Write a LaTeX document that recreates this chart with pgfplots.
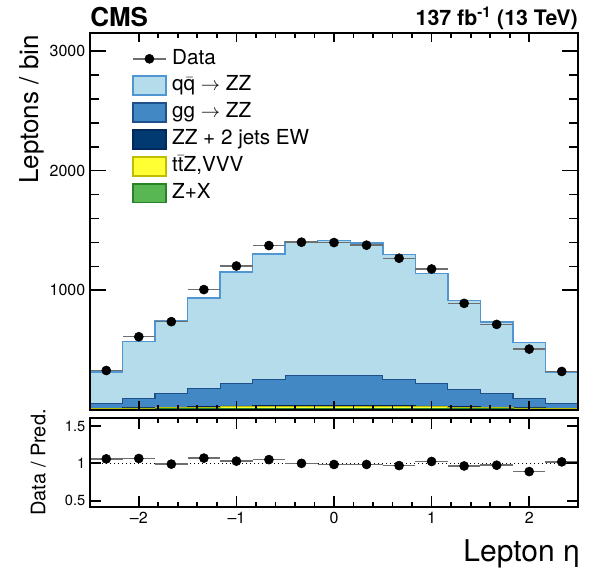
\documentclass[border=0pt]{standalone}
\usepackage{fontspec}
\setmainfont{TeX Gyre Heros}
\usepackage{pgfplots}
\pgfplotsset{compat=1.18}
\usepackage{pgfplotstable}

\definecolor{qqfill}{RGB}{181,220,234}
\definecolor{qqline}{RGB}{80,150,210}
\definecolor{ggfill}{RGB}{66,136,196}
\definecolor{ggline}{RGB}{30,80,140}
\definecolor{ewfill}{RGB}{0,58,112}
\definecolor{ewline}{RGB}{0,40,90}
\definecolor{ttzfill}{RGB}{255,255,51}
\definecolor{ttzline}{RGB}{190,190,0}
\definecolor{zxfill}{RGB}{88,183,82}
\definecolor{zxline}{RGB}{40,130,40}
\definecolor{errgray}{RGB}{110,110,110}

% Expected yields per bin (lower bin edge), last row closes the final bin
\pgfplotstableread{
lo       zx  ttz ew gg  qq
-2.5     7   5   3  37  264
-2.1667  9   8   4  78  474
-1.8333  10  10  5  110 608
-1.5     11  13  6  147 759
-1.1667  12  15  7  190 929
-0.8333  13  17  8  220 1046
-0.5     13  18  8  247 1118
-0.1667  13  18  8  250 1129
 0.1667  13  18  8  247 1110
 0.5     13  17  8  220 1043
 0.8333  12  15  7  188 920
 1.1667  11  13  6  141 745
 1.5     10  10  5  110 600
 1.8333  9   8   4  78  466
 2.1667  7   5   3  39  260
 2.5     7   5   3  39  260
}\mc
\pgfplotstablecreatecol[expr={\thisrow{zx}}]{c1}\mc
\pgfplotstablecreatecol[expr={\thisrow{zx}+\thisrow{ttz}}]{c2}\mc
\pgfplotstablecreatecol[expr={\thisrow{zx}+\thisrow{ttz}+\thisrow{ew}}]{c3}\mc
\pgfplotstablecreatecol[expr={\thisrow{zx}+\thisrow{ttz}+\thisrow{ew}+\thisrow{gg}}]{c4}\mc
\pgfplotstablecreatecol[expr={\thisrow{zx}+\thisrow{ttz}+\thisrow{ew}+\thisrow{gg}+\thisrow{qq}}]{c5}\mc

% Observed leptons per bin
\pgfplotstableread{
x        y     ex       ey
-2.3333  330   0.16667  18
-2.0     612   0.16667  25
-1.6667  738   0.16667  27
-1.3333  1006  0.16667  32
-1.0     1203  0.16667  35
-0.6667  1374  0.16667  37
-0.3333  1402  0.16667  37
 0.0     1399  0.16667  37
 0.3333  1377  0.16667  37
 0.6667  1268  0.16667  36
 1.0     1178  0.16667  34
 1.3333  891   0.16667  30
 1.6667  715   0.16667  27
 2.0     509   0.16667  23
 2.3333  322   0.16667  18
}\data

% Data / prediction
\pgfplotstableread{
x        r      ex       er
-2.3333  1.060  0.16667  0.059
-2.0     1.065  0.16667  0.043
-1.6667  0.990  0.16667  0.036
-1.3333  1.070  0.16667  0.034
-1.0     1.030  0.16667  0.030
-0.6667  1.050  0.16667  0.028
-0.3333  1.000  0.16667  0.027
 0.0     0.985  0.16667  0.026
 0.3333  0.985  0.16667  0.027
 0.6667  0.970  0.16667  0.027
 1.0     1.025  0.16667  0.030
 1.3333  0.965  0.16667  0.032
 1.6667  0.975  0.16667  0.036
 2.0     0.890  0.16667  0.039
 2.3333  1.020  0.16667  0.057
}\ratio

\pgfplotsset{
  cmsframe/.style={
    scale only axis,
    xmin=-2.5, xmax=2.5,
    tick align=inside,
    axis on top,
    axis line style={line width=1.6pt},
    every tick/.style={black, line width=1.3pt},
    minor x tick num=4,
    /pgf/number format/assume math mode=true,
    ticklabel style={font=\fontsize{12}{14}\selectfont},
  },
  boxlegend/.style={legend image code/.code={%
    \draw[##1, line width=1.2pt] (0pt,-7pt) rectangle (25pt,7pt);}},
  datapts/.style={
    only marks, mark=*, mark size=3.4pt, black,
    error bars/x dir=both, error bars/x explicit,
    error bars/y dir=both, error bars/y explicit,
    error bars/error mark=none,
    error bars/error bar style={errgray, line width=1.1pt}},
}

\begin{document}
\begin{tikzpicture}
\begin{axis}[cmsframe, name=main,
  width=366pt, height=282.75pt,
  ymin=0, ymax=3150,
  xtick={-2,-1,0,1,2}, xticklabels={},
  ytick={1000,2000,3000}, yticklabels={1000,2000,3000},
  minor y tick num=4,
  major tick length=12pt, minor tick length=6.5pt,
  every major x tick/.append style={/pgfplots/major tick length=7pt},
  every minor x tick/.append style={/pgfplots/minor tick length=4pt},
  legend cell align=left,
  legend style={draw=none, fill=none, inner sep=0pt, outer sep=0pt,
    at={(axis description cs:0.086,0.958)}, anchor=north west,
    font=\fontsize{15.5}{18}\selectfont, row sep=5pt,
    nodes={inner sep=0pt, text height=11.5pt, text depth=3.5pt},
    /tikz/every odd column/.append style={column sep=4pt}},
]
\addlegendimage{legend image code/.code={%
  \draw[errgray, line width=1.1pt] (0pt,0pt) -- (25pt,0pt);
  \fill[black] (12.5pt,0pt) circle (3.4pt);}}
\addlegendentry{Data}
\addlegendimage{boxlegend, fill=qqfill, draw=qqline}
\addlegendentry{q$\bar{\mbox{q}}$ $\rightarrow$ ZZ}
\addlegendimage{boxlegend, fill=ggfill, draw=ggline}
\addlegendentry{gg $\rightarrow$ ZZ}
\addlegendimage{boxlegend, fill=ewfill, draw=ewline}
\addlegendentry{ZZ + 2 jets EW}
\addlegendimage{boxlegend, fill=ttzfill, draw=ttzline}
\addlegendentry{t$\bar{\mbox{t}}$Z,VVV}
\addlegendimage{boxlegend, fill=zxfill, draw=zxline}
\addlegendentry{Z+X}

\addplot[const plot mark left, fill=qqfill, draw=qqline, line width=1.1pt, forget plot] table[x=lo, y=c5] {\mc} \closedcycle;
\addplot[const plot mark left, fill=ggfill, draw=ggline, line width=0.9pt, forget plot] table[x=lo, y=c4] {\mc} \closedcycle;
\addplot[const plot mark left, fill=ewfill, draw=ewline, line width=0.6pt, forget plot] table[x=lo, y=c3] {\mc} \closedcycle;
\addplot[const plot mark left, fill=ttzfill, draw=ttzline, line width=0.6pt, forget plot] table[x=lo, y=c2] {\mc} \closedcycle;
\addplot[const plot mark left, fill=zxfill, draw=zxline, line width=0.6pt, forget plot] table[x=lo, y=c1] {\mc} \closedcycle;

\addplot[forget plot, datapts] table[x=x, y=y, x error=ex, y error=ey] {\data};
\end{axis}

\begin{axis}[cmsframe, name=ratio,
  at={(main.south west)}, anchor=north west, yshift=-6pt,
  width=366pt, height=66.75pt,
  ymin=0.416, ymax=1.607,
  xtick={-2,-1,0,1,2},
  xticklabels={\textendash2,\textendash1,0,1,2},
  ytick={0.5,1,1.5}, yticklabels={0.5,1,1.5},
  yticklabel style={font=\fontsize{11}{13}\selectfont},
  major tick length=8pt, minor tick length=4pt,
]
\addplot[black, dotted, line width=1pt] coordinates {(-2.5,1) (2.5,1)};
\addplot[datapts] table[x=x, y=r, x error=ex, y error=er] {\ratio};
\end{axis}

\node[anchor=base west, inner sep=0pt, font=\bfseries\fontsize{19.5}{22}\selectfont]
  at ([yshift=4.5pt]main.north west) {CMS};
\node[anchor=base east, inner sep=0pt, font=\bfseries\fontsize{16}{18}\selectfont]
  at ([yshift=5.25pt]main.north east) {137 fb\textsuperscript{-1} (13 TeV)};
\node[rotate=90, anchor=south east, inner sep=0pt, font=\fontsize{19.5}{22}\selectfont]
  at ([xshift=-34.5pt,yshift=-1.5pt]main.north west) {Leptons / bin};
\node[rotate=90, anchor=south, inner sep=0pt, font=\fontsize{15}{17}\selectfont]
  at ([xshift=-33pt]ratio.west) {Data / Pred.};
\node[anchor=base east, inner sep=0pt, font=\fontsize{22.5}{26}\selectfont]
  at ([xshift=1.5pt,yshift=-41.25pt]ratio.south east) {Lepton η};

\pgfresetboundingbox
\path[use as bounding box] ([xshift=-67.5pt,yshift=-123pt]main.south west)
  rectangle ([xshift=374.25pt,yshift=307.5pt]main.south west);
\end{tikzpicture}
\end{document}
